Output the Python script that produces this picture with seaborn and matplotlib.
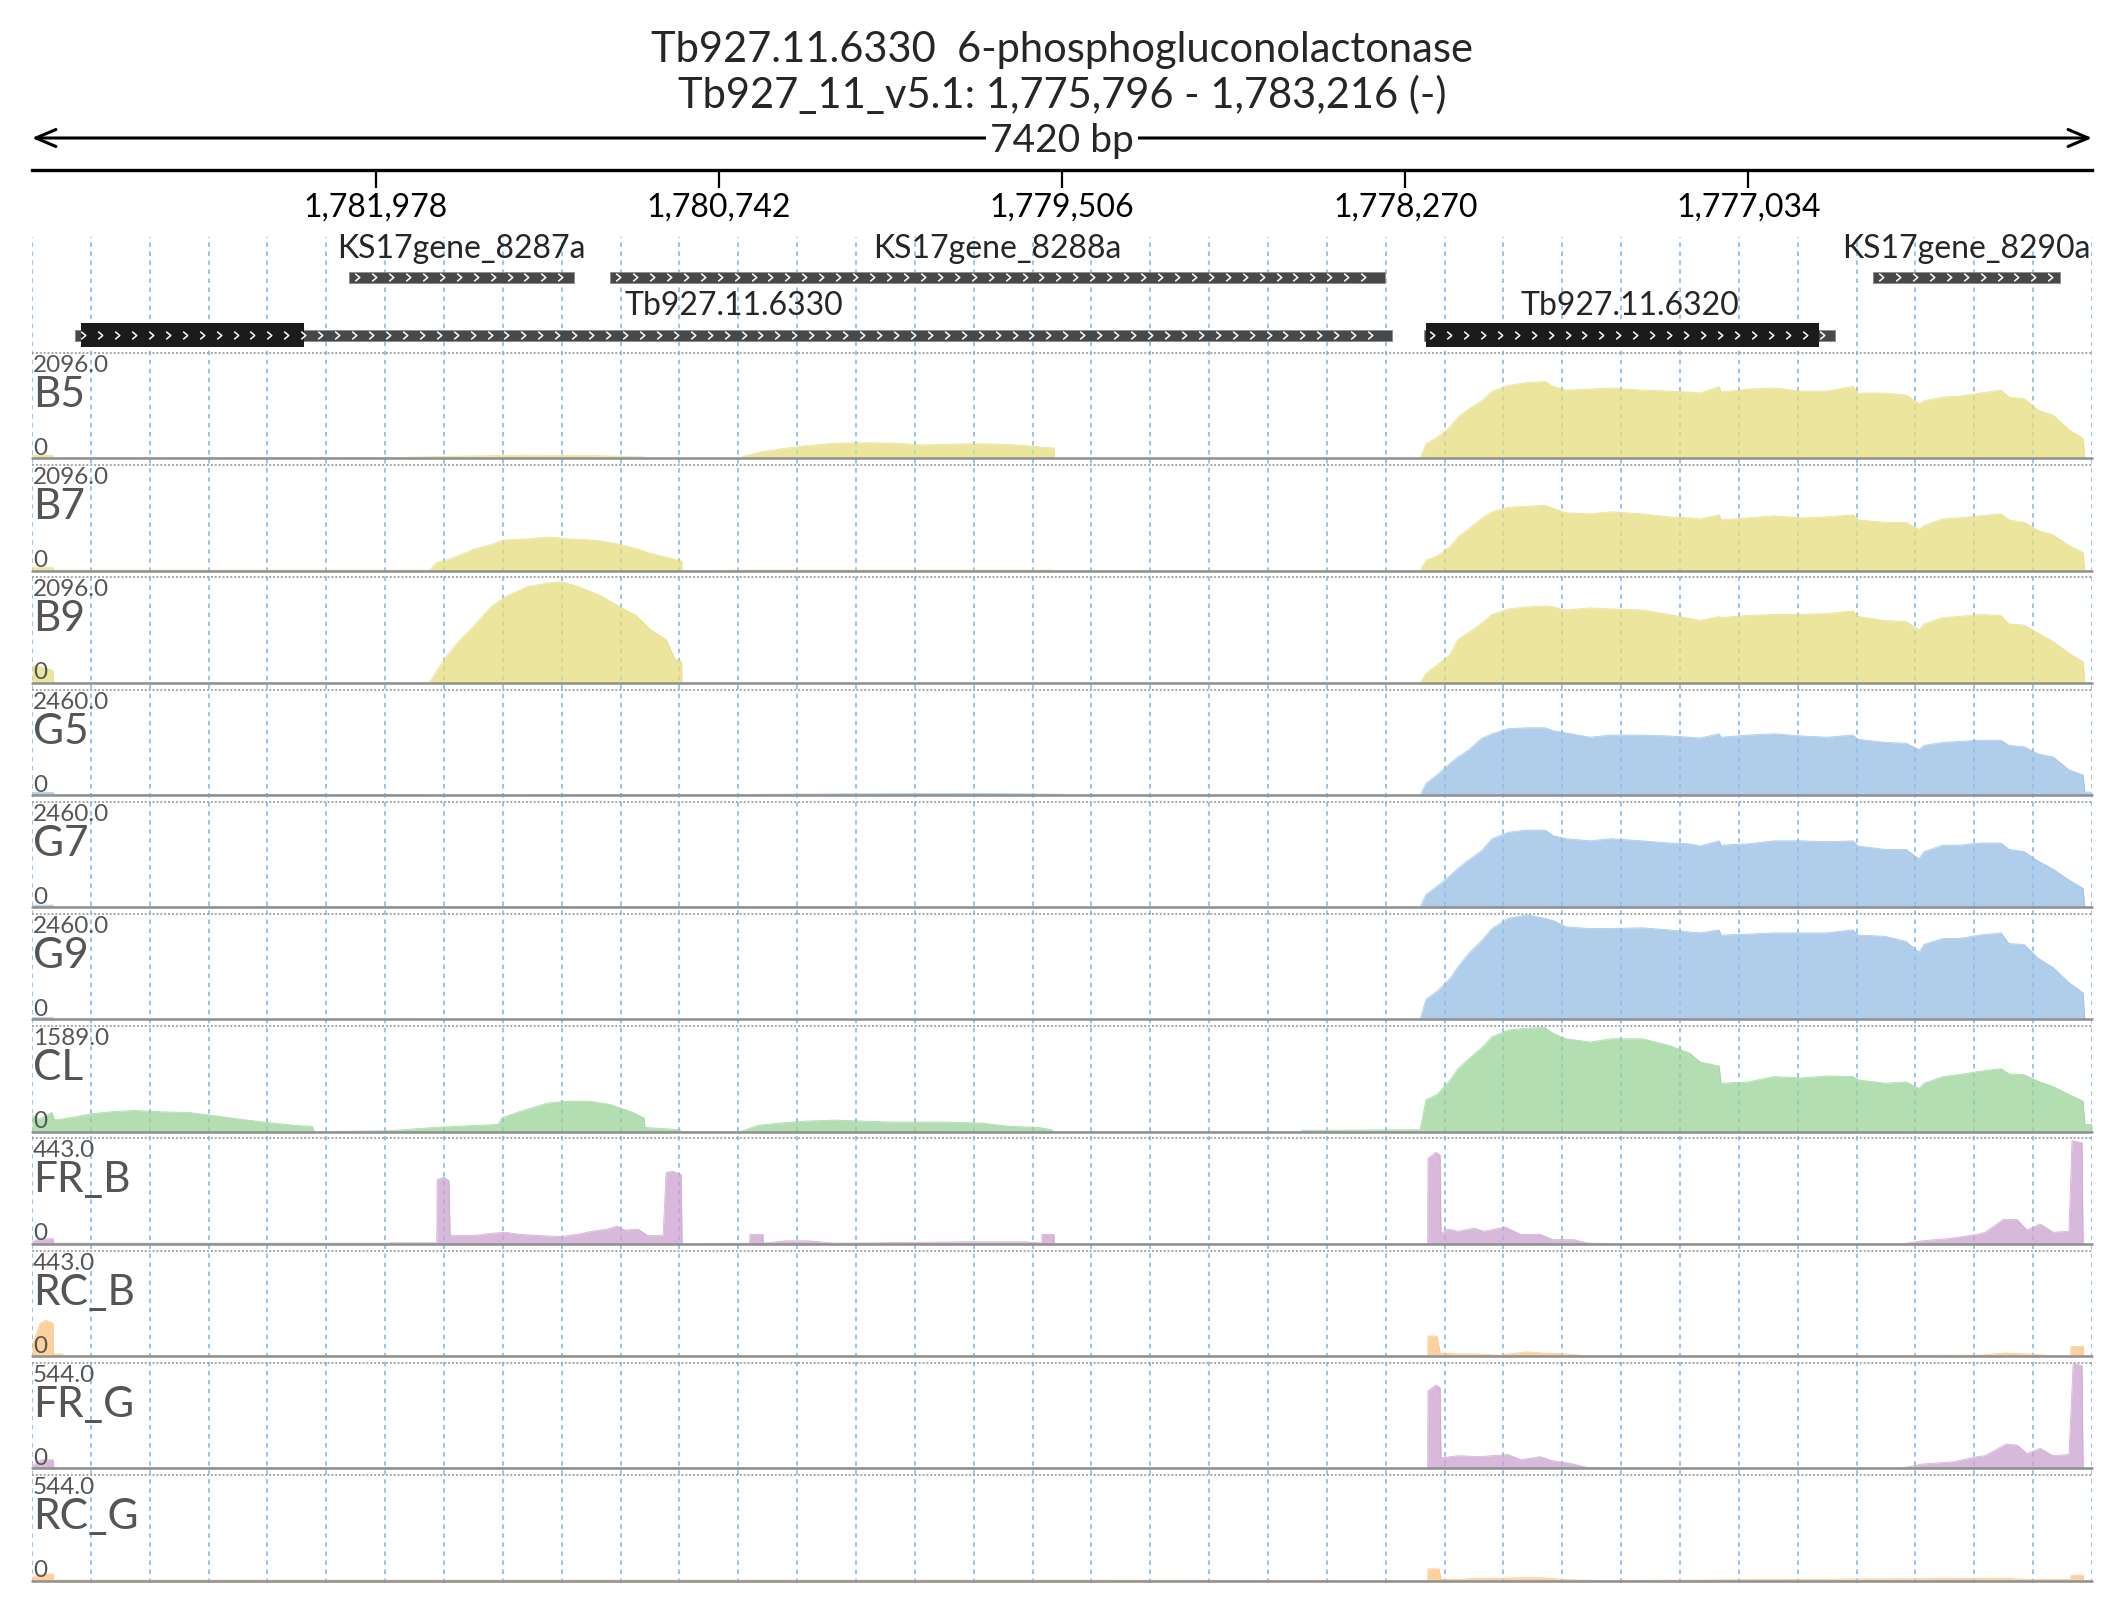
import matplotlib
matplotlib.use("Agg")
import numpy as np
import matplotlib.pyplot as plt
from matplotlib.path import Path
from matplotlib.ticker import FuncFormatter
import seaborn as sns

# =========================================================
# DATA
# =========================================================

win_start, win_end = 1775796, 1783216      # minus strand -> axis reversed
tick_pos = [1781978, 1780742, 1779506, 1778270, 1777034]

title_1 = "Tb927.11.6330  6-phosphogluconolactonase"
title_2 = "Tb927_11_v5.1: 1,775,796 - 1,783,216 (-)"
span_label = "7420 bp"

gene_names = ["KS17gene_8287a", "KS17gene_8288a", "KS17gene_8290a",
              "Tb927.11.6330", "Tb927.11.6320"]
gene_start = [1782074, 1781134, 1776585, 1783061, 1778202]
gene_end = [1781264, 1778343, 1775911, 1778317, 1776722]
gene_row = [0, 0, 0, 1, 1]
cds_start = [None, None, None, 1783040, 1778195]
cds_end = [None, None, None, 1782236, 1776779]

track_names = ["B5", "B7", "B9", "G5", "G7", "G9", "CL",
               "FR_B", "RC_B", "FR_G", "RC_G"]
track_max = [2096.0, 2096.0, 2096.0, 2460.0, 2460.0, 2460.0, 1589.0,
             443.0, 443.0, 544.0, 544.0]
track_colors = ["#e6dd7e", "#e6dd7e", "#e6dd7e",
                "#96bee6", "#96bee6", "#96bee6", "#98d398",
                "#cca2cf", "#fcc27e", "#cca2cf", "#fcc27e"]

# coverage over Tb927.11.6320 (shared knots)
pos_6320 = [1778216, 1778195, 1778155, 1778108, 1778080, 1778040, 1777993,
            1777957, 1777899, 1777831, 1777766, 1777737, 1777691, 1777604,
            1777528, 1777417, 1777320, 1777244, 1777208, 1777139, 1777132,
            1777035, 1776941, 1776844, 1776750, 1776657, 1776639, 1776542,
            1776466, 1776419, 1776401, 1776333, 1776275, 1776199, 1776124,
            1776095, 1776041, 1775990, 1775936, 1775879, 1775828, 1775822,
            1775796]
b5_6320 = [0, 290, 420, 630, 820, 990, 1150, 1340, 1450, 1510, 1530, 1430,
           1360, 1380, 1400, 1360, 1340, 1320, 1300, 1430, 1320, 1380, 1400,
           1340, 1340, 1430, 1300, 1300, 1260, 1090, 1150, 1220, 1240, 1300,
           1360, 1220, 1190, 960, 860, 570, 400, 0, 0]
b7_6320 = [0, 210, 290, 480, 670, 840, 1050, 1170, 1260, 1280, 1300, 1240,
           1150, 1130, 1170, 1130, 1070, 1050, 1030, 1110, 1010, 1050, 1090,
           1050, 1070, 1110, 1010, 960, 960, 820, 900, 1030, 1050, 1090,
           1130, 1010, 960, 800, 710, 500, 360, 0, 0]
b9_6320 = [0, 190, 360, 570, 860, 1010, 1190, 1360, 1470, 1510, 1530, 1510,
           1450, 1490, 1470, 1450, 1360, 1280, 1240, 1320, 1300, 1340, 1360,
           1360, 1380, 1430, 1320, 1240, 1220, 1050, 1170, 1300, 1320, 1360,
           1340, 1170, 1150, 990, 820, 590, 420, 0, 0]
g5_6320 = [0, 270, 470, 740, 890, 1060, 1330, 1430, 1550, 1570, 1570, 1500,
           1450, 1350, 1400, 1400, 1380, 1350, 1330, 1430, 1350, 1400, 1430,
           1380, 1350, 1400, 1300, 1230, 1210, 1060, 1160, 1230, 1250, 1280,
           1280, 1160, 1130, 960, 890, 590, 470, 70, 70]
g7_6320 = [0, 300, 490, 740, 910, 1110, 1330, 1600, 1750, 1800, 1800, 1670,
           1600, 1550, 1600, 1550, 1500, 1480, 1430, 1550, 1450, 1480, 1550,
           1550, 1530, 1550, 1430, 1350, 1350, 1130, 1300, 1450, 1450, 1500,
           1500, 1350, 1300, 1080, 890, 640, 440, 0, 0]
g9_6320 = [0, 470, 660, 960, 1230, 1550, 1850, 2120, 2360, 2440, 2360, 2310,
           2160, 2120, 2120, 2140, 2090, 2040, 2020, 2090, 1970, 1990, 2020,
           2020, 2020, 2090, 1970, 1940, 1820, 1570, 1750, 1890, 1890, 1970,
           2020, 1770, 1750, 1430, 1210, 860, 620, 0, 0]
cl_6320 = [30, 480, 560, 780, 950, 1100, 1270, 1430, 1530, 1560, 1570, 1480,
           1400, 1350, 1400, 1400, 1300, 1180, 1050, 990, 730, 750, 830,
           810, 840, 830, 780, 730, 750, 650, 730, 830, 860, 910, 950,
           870, 860, 760, 680, 560, 460, 110, 110]

# coverage left of Tb927.11.6320
b5_left_pos = [1783216, 1783140, 1783139, 1781940, 1781700, 1781450, 1781200,
               1781010, 1781000, 1780660, 1780655, 1780597, 1780522, 1780435,
               1780324, 1780216, 1780107, 1780010, 1779913, 1779816, 1779718,
               1779618, 1779571, 1779535, 1779534]
b5_left_cov = [60, 60, 10, 15, 45, 65, 60, 30, 5, 5, 40, 125, 190, 250, 305,
               315, 305, 270, 285, 295, 285, 250, 220, 210, 0]
b7_left_pos = [1783216, 1783140, 1783139, 1781787, 1781786, 1781757, 1781725,
               1781674, 1781628, 1781563, 1781516, 1781433, 1781354, 1781275,
               1781192, 1781112, 1781040, 1780986, 1780932, 1780876, 1780875,
               1780650, 1779540, 1779539]
b7_left_cov = [60, 60, 10, 10, 0, 170, 210, 310, 420, 520, 610, 630, 670, 630,
               610, 540, 440, 340, 270, 190, 0, 12, 12, 0]
b9_left_pos = [1783216, 1783140, 1783139, 1781787, 1781786, 1781764, 1781725,
               1781674, 1781628, 1781563, 1781516, 1781433, 1781354, 1781307,
               1781257, 1781170, 1781098, 1781040, 1780990, 1780932, 1780900,
               1780876, 1780875]
b9_left_cov = [360, 250, 10, 10, 0, 190, 520, 860, 1110, 1510, 1700, 1910,
               1990, 2010, 1930, 1740, 1510, 1340, 1070, 860, 480, 420, 0]
g5_left_pos = [1783216, 1783140, 1783139, 1781800, 1781790, 1780650, 1780300,
               1779800, 1779500, 1779499]
g5_left_cov = [60, 60, 12, 12, 0, 15, 30, 40, 20, 0]
g7_left_pos = [1783216, 1783140, 1783139, 1780650, 1780300, 1780250, 1779500]
g7_left_cov = [50, 50, 5, 20, 20, 5, 0]
g9_left_pos = [1783216, 1783140, 1783139, 1779500]
g9_left_cov = [45, 45, 5, 0]
cl_left_pos = [1783216, 1783190, 1783145, 1783135, 1783079, 1783003, 1782928,
               1782852, 1782751, 1782650, 1782575, 1782470, 1782370, 1782269,
               1782207, 1782200,
               1781930, 1781764, 1781689, 1781537, 1781523, 1781462, 1781361,
               1781285, 1781210, 1781134, 1781058, 1781012, 1781008, 1780882,
               1780880,
               1780666, 1780601, 1780525, 1780424, 1780324, 1780223, 1780122,
               1780046, 1779920, 1779794, 1779693, 1779592, 1779542, 1779540,
               1778649, 1778640]
cl_left_cov = [250, 190, 290, 175, 210, 270, 300, 320, 300, 290, 250, 190,
               140, 95, 80, 0,
               15, 65, 80, 110, 210, 300, 430, 460, 460, 410, 300, 210, 65,
               30, 0,
               0, 95, 130, 160, 175, 160, 145, 145, 145, 130, 80, 65, 30, 0,
               0, 20]

# 5' / 3' end tracks
fr_b_pos = [1783216, 1783184, 1783140, 1783139, 1781928, 1781927, 1781758,
            1781757, 1781732, 1781714, 1781710, 1781678, 1781624, 1781566,
            1781512, 1781458, 1781383, 1781311, 1781253, 1781199, 1781145,
            1781109, 1781080, 1781033, 1780997, 1780943, 1780932, 1780907,
            1780878, 1780874,
            1780631, 1780630, 1780583, 1780582, 1780504, 1780420, 1780327,
            1779819, 1779636, 1779579, 1779578, 1779535, 1779534,
            1778189, 1778188, 1778159, 1778144, 1778141, 1778116, 1778080,
            1778022, 1777986, 1777910, 1777853, 1777784, 1777737, 1777662,
            1777615, 1777511,
            1776480, 1776408, 1776315, 1776210, 1776181, 1776116, 1776066,
            1776030, 1775983, 1775936, 1775879, 1775868, 1775832, 1775828,
            1775796]
fr_b_cov = [10, 22, 22, 3, 3, 5, 5, 270, 280, 265, 35, 35, 35, 44, 49, 40,
            35, 31, 40, 53, 62, 75, 58, 62, 35, 35, 300, 305, 290, 0,
            3, 40, 40, 3, 13, 13, 3, 9, 9, 3, 40, 40, 0,
            0, 360, 385, 372, 44, 62, 53, 66, 53, 71, 40, 40, 18, 18, 4, 0,
            0, 13, 22, 40, 49, 102, 102, 58, 84, 49, 53, 434, 425, 0, 0]
rc_b_pos = [1783216, 1783187, 1783166, 1783140, 1783139, 1783110, 1783100,
            1779500,
            1778189, 1778188, 1778155, 1778144, 1778080, 1778015, 1777930,
            1777831, 1777777, 1777691, 1777597,
            1776199, 1776106, 1776030, 1775915, 1775873, 1775872, 1775828,
            1775827, 1775796]
rc_b_cov = [44, 137, 150, 137, 9, 9, 3, 3,
            0, 84, 84, 13, 9, 9, 4, 18, 13, 9, 0,
            4, 13, 9, 0, 0, 40, 40, 0, 0]
fr_g_pos = [1783216, 1783184, 1783140, 1783139, 1779500,
            1778189, 1778188, 1778159, 1778144, 1778141, 1778080, 1778004,
            1777899, 1777853, 1777784, 1777737, 1777680, 1777615, 1777435,
            1776484, 1776408, 1776297, 1776210, 1776181, 1776106, 1776066,
            1776030, 1775983, 1775936, 1775879, 1775864, 1775832, 1775828,
            1775796]
fr_g_cov = [10, 44, 44, 3, 3,
            0, 400, 430, 415, 54, 65, 60, 71, 44, 60, 38, 27, 5, 0,
            0, 22, 33, 60, 65, 125, 120, 76, 103, 65, 71, 540, 530, 0, 0]
rc_g_pos = [1783216, 1783187, 1783140, 1783139, 1779500,
            1778189, 1778188, 1778148, 1778141, 1778080, 1778015, 1777946,
            1777853, 1777777, 1777700, 1777560,
            1776181, 1776106, 1776030, 1775936, 1775873, 1775872, 1775828,
            1775827, 1775796]
rc_g_cov = [15, 33, 33, 2, 2,
            0, 60, 60, 5, 5, 11, 11, 14, 14, 5, 0,
            11, 11, 5, 5, 5, 27, 27, 0, 0]

track_pos = [b5_left_pos + pos_6320, b7_left_pos + pos_6320,
             b9_left_pos + pos_6320, g5_left_pos + pos_6320,
             g7_left_pos + pos_6320, g9_left_pos + pos_6320,
             cl_left_pos + pos_6320, fr_b_pos, rc_b_pos, fr_g_pos, rc_g_pos]
track_cov = [b5_left_cov + b5_6320, b7_left_cov + b7_6320,
             b9_left_cov + b9_6320, g5_left_cov + g5_6320,
             g7_left_cov + g7_6320, g9_left_cov + g9_6320,
             cl_left_cov + cl_6320, fr_b_cov, rc_b_cov, fr_g_cov, rc_g_cov]

# =========================================================
# FIGURE SETUP
# =========================================================

sns.set_theme(style="white")
plt.rcParams["font.family"] = ["Lato", "DejaVu Sans"]

W, H = 2126, 1619
PX_L, PX_R = 32, 2092
x_left, x_right = win_end, win_start
x_mid = (win_start + win_end) / 2

fig = plt.figure(figsize=(W / 100, H / 100), dpi=100)
fig.patch.set_facecolor("white")


def rect(top_px, bot_px):
    return [PX_L / W, 1 - bot_px / H, (PX_R - PX_L) / W, (bot_px - top_px) / H]


grid_color = "#8fc0ea"
grid_x = np.linspace(x_left, x_right, 36)

# background grid
ax_g = fig.add_axes(rect(237, 1583))
ax_g.set_xlim(x_left, x_right)
ax_g.set_ylim(0, 1)
ax_g.vlines(grid_x, 0, 1, colors=grid_color, lw=1.3,
            linestyles=(0, (2.5, 2.5)))
ax_g.set_axis_off()

# =========================================================
# HEADER: TITLE, SPAN ARROW, GENES
# =========================================================

ax_h = fig.add_axes(rect(0, 353))
ax_h.set_xlim(x_left, x_right)
ax_h.set_ylim(353, 0)
ax_h.set_axis_off()

ax_h.text(x_mid, 62, title_1, ha="center", va="baseline", fontsize=30)
ax_h.text(x_mid, 108, title_2, ha="center", va="baseline", fontsize=30)

ax_h.annotate("", xy=(x_right, 138), xytext=(x_left, 138),
              arrowprops=dict(arrowstyle="<->,head_length=0.4,head_width=0.17",
                              lw=2.2, color="black", shrinkA=0, shrinkB=0,
                              mutation_scale=36))
ax_h.text(x_mid, 152, span_label, ha="center", va="baseline", fontsize=28,
          bbox=dict(facecolor="white", edgecolor="none", pad=3))

chev = Path([(-0.3, 0.5), (0.3, 0.0), (-0.3, -0.5)],
            [Path.MOVETO, Path.LINETO, Path.LINETO])

row_bar_y = [277, 335]
row_lab_y = [258, 315]

for name, gs, ge, row, cs, ce in zip(gene_names, gene_start, gene_end,
                                     gene_row, cds_start, cds_end):
    yb = row_bar_y[row]
    ax_h.barh(yb, ge - gs, left=gs, height=11, color="#484848",
              edgecolor="#8a8a8a", lw=0.6, zorder=3)
    if cs is not None:
        ax_h.barh(yb, ce - cs, left=cs, height=24, color="#1b1b1b",
                  lw=0, zorder=4)
    xs = np.arange(gs - 29, ge + 20, -61)
    ax_h.plot(xs, [yb] * len(xs), ls="none", marker=chev, ms=5.5,
              mfc="none", mec="white", mew=1.1, zorder=5)
    ax_h.text((gs + ge) / 2, row_lab_y[row], name, ha="center",
              va="baseline", fontsize=23, zorder=6)

# =========================================================
# RULER
# =========================================================

ax_r = fig.add_axes([PX_L / W, 1 - 170 / H, (PX_R - PX_L) / W, 8 / H])
ax_r.set_xlim(x_left, x_right)
ax_r.patch.set_visible(False)
for s in ["top", "left", "right"]:
    ax_r.spines[s].set_visible(False)
ax_r.spines["bottom"].set_linewidth(2.4)
ax_r.spines["bottom"].set_color("black")
ax_r.set_yticks([])
ax_r.set_xticks(tick_pos)
ax_r.xaxis.set_major_formatter(FuncFormatter(lambda v, p: f"{int(v):,}"))
ax_r.tick_params(axis="x", bottom=True, direction="out", length=13,
                 width=1.6, pad=3, labelsize=23, colors="black")

# =========================================================
# COVERAGE TRACKS
# =========================================================

for i, (name, ymax, col, pos, cov) in enumerate(
        zip(track_names, track_max, track_colors, track_pos, track_cov)):
    top = 353 + 112.2 * i
    ax = fig.add_axes(rect(top, top + 105.5))
    ax.patch.set_visible(False)
    ax.set_xlim(x_left, x_right)
    ax.set_ylim(0, ymax)
    ax.fill_between(pos, cov, 0, color=col, alpha=0.75, lw=0)
    sns.lineplot(x=pos, y=cov, ax=ax, color=col, lw=0.6, alpha=0.8,
                 estimator=None, sort=False)
    ax.axhline(ymax, color="#a6a6a6", lw=1.4, ls=(0, (1, 1)), clip_on=False)
    ax.axhline(0, color="#8f8f8f", lw=1.8, clip_on=False)
    ax.set_axis_off()

    fig.text(33 / W, 1 - (top + 19) / H, f"{ymax:.1f}", fontsize=17.5,
             color="#555555", va="baseline")
    fig.text(33 / W, 1 - (top + 54) / H, name, fontsize=30.5,
             color="#555555", va="baseline")
    fig.text(33 / W, 1 - (top + 102) / H, "0", fontsize=17.5,
             color="#555555", va="baseline")

fig.savefig("out.png", dpi=100)
